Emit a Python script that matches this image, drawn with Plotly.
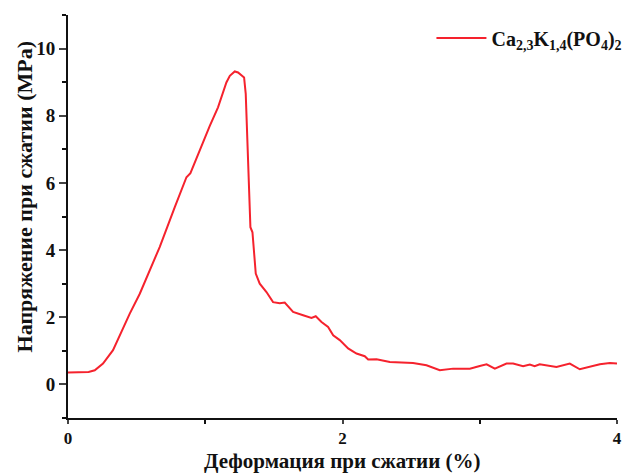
import plotly.graph_objects as go

strain = [0, 0.15, 0.195, 0.255, 0.328, 0.45, 0.523, 0.608, 0.668, 0.778, 0.838, 0.863, 0.892,
          0.972, 1.033, 1.093, 1.154, 1.179, 1.215, 1.239, 1.283, 1.295, 1.312, 1.329, 1.344,
          1.354, 1.368, 1.397, 1.446, 1.494, 1.543, 1.579, 1.640, 1.713, 1.774, 1.805, 1.847,
          1.895, 1.932, 1.980, 2.041, 2.102, 2.162, 2.187, 2.248, 2.345, 2.514, 2.612, 2.709,
          2.806, 2.928, 3.0, 3.05, 3.11, 3.195, 3.243, 3.316, 3.365, 3.40, 3.437, 3.559, 3.656,
          3.729, 3.875, 3.948, 4.0]
stress = [0.356, 0.37, 0.42, 0.62, 1.02, 2.11, 2.70, 3.49, 4.09, 5.28, 5.87, 6.17, 6.29,
          7.11, 7.70, 8.25, 8.99, 9.19, 9.32, 9.29, 9.14, 8.65, 6.66, 4.68, 4.53,
          3.99, 3.30, 3.0, 2.75, 2.45, 2.42, 2.44, 2.16, 2.06, 1.98, 2.03, 1.86,
          1.71, 1.46, 1.32, 1.07, 0.92, 0.84, 0.74, 0.75, 0.67, 0.64, 0.57, 0.42,
          0.47, 0.47, 0.55, 0.60, 0.47, 0.62, 0.62, 0.54, 0.59, 0.54, 0.60, 0.52, 0.62,
          0.45, 0.60, 0.64, 0.62]

series_name = "Ca<sub>2,3</sub>K<sub>1,4</sub>(PO<sub>4</sub>)<sub>2</sub>"
x_title = "Деформация при сжатии (%)"
y_title = "Напряжение при сжатии (MPa)"

FONT = "Liberation Serif, Times New Roman, serif"

fig = go.Figure()
fig.add_trace(go.Scatter(x=strain, y=stress, mode="lines", name=series_name,
                         line=dict(color="#f5222d", width=2)))

fig.update_layout(
    width=627, height=474,
    margin=dict(l=68, r=10, t=15, b=56, autoexpand=False),
    paper_bgcolor="white", plot_bgcolor="white",
    font=dict(family=FONT, color="#111", size=18, weight=700),
    showlegend=True,
    legend=dict(x=0.662, y=0.943, xanchor="left", yanchor="middle",
                bgcolor="rgba(0,0,0,0)", font=dict(size=20, family=FONT, weight=700),
                itemwidth=50),
    xaxis=dict(range=[0, 4], tickvals=[0, 2, 4], ticks="outside", ticklen=4, tickwidth=2,
               showline=True, linewidth=2, linecolor="#111", showgrid=False, zeroline=False,
               tickfont=dict(size=17, family=FONT, weight=700),
               minor=dict(tickvals=[1, 3], ticks="outside", ticklen=4, tickwidth=2, tickcolor="#111")),
    yaxis=dict(range=[-1, 11], tickvals=[0, 2, 4, 6, 8, 10], ticks="outside", ticklen=7, tickwidth=2,
               showline=True, linewidth=2, linecolor="#111", showgrid=False, zeroline=False,
               tickfont=dict(size=19, family=FONT, weight=700),
               minor=dict(tickvals=[-1, 1, 3, 5, 7, 9, 11], ticks="outside", ticklen=4, tickwidth=2, tickcolor="#111")),
    annotations=[
        dict(text=y_title, textangle=-90, xref="paper", yref="paper",
             x=-0.079, y=0.549, xanchor="center", yanchor="middle", showarrow=False,
             font=dict(size=22, family=FONT, weight=700, color="#111")),
        dict(text=x_title, xref="paper", yref="paper",
             x=0.5, y=-0.107, xanchor="center", yanchor="middle", showarrow=False,
             borderpad=0,
             font=dict(size=21, family=FONT, weight=700, color="#111")),
    ],
)

fig.write_html("out.html")
